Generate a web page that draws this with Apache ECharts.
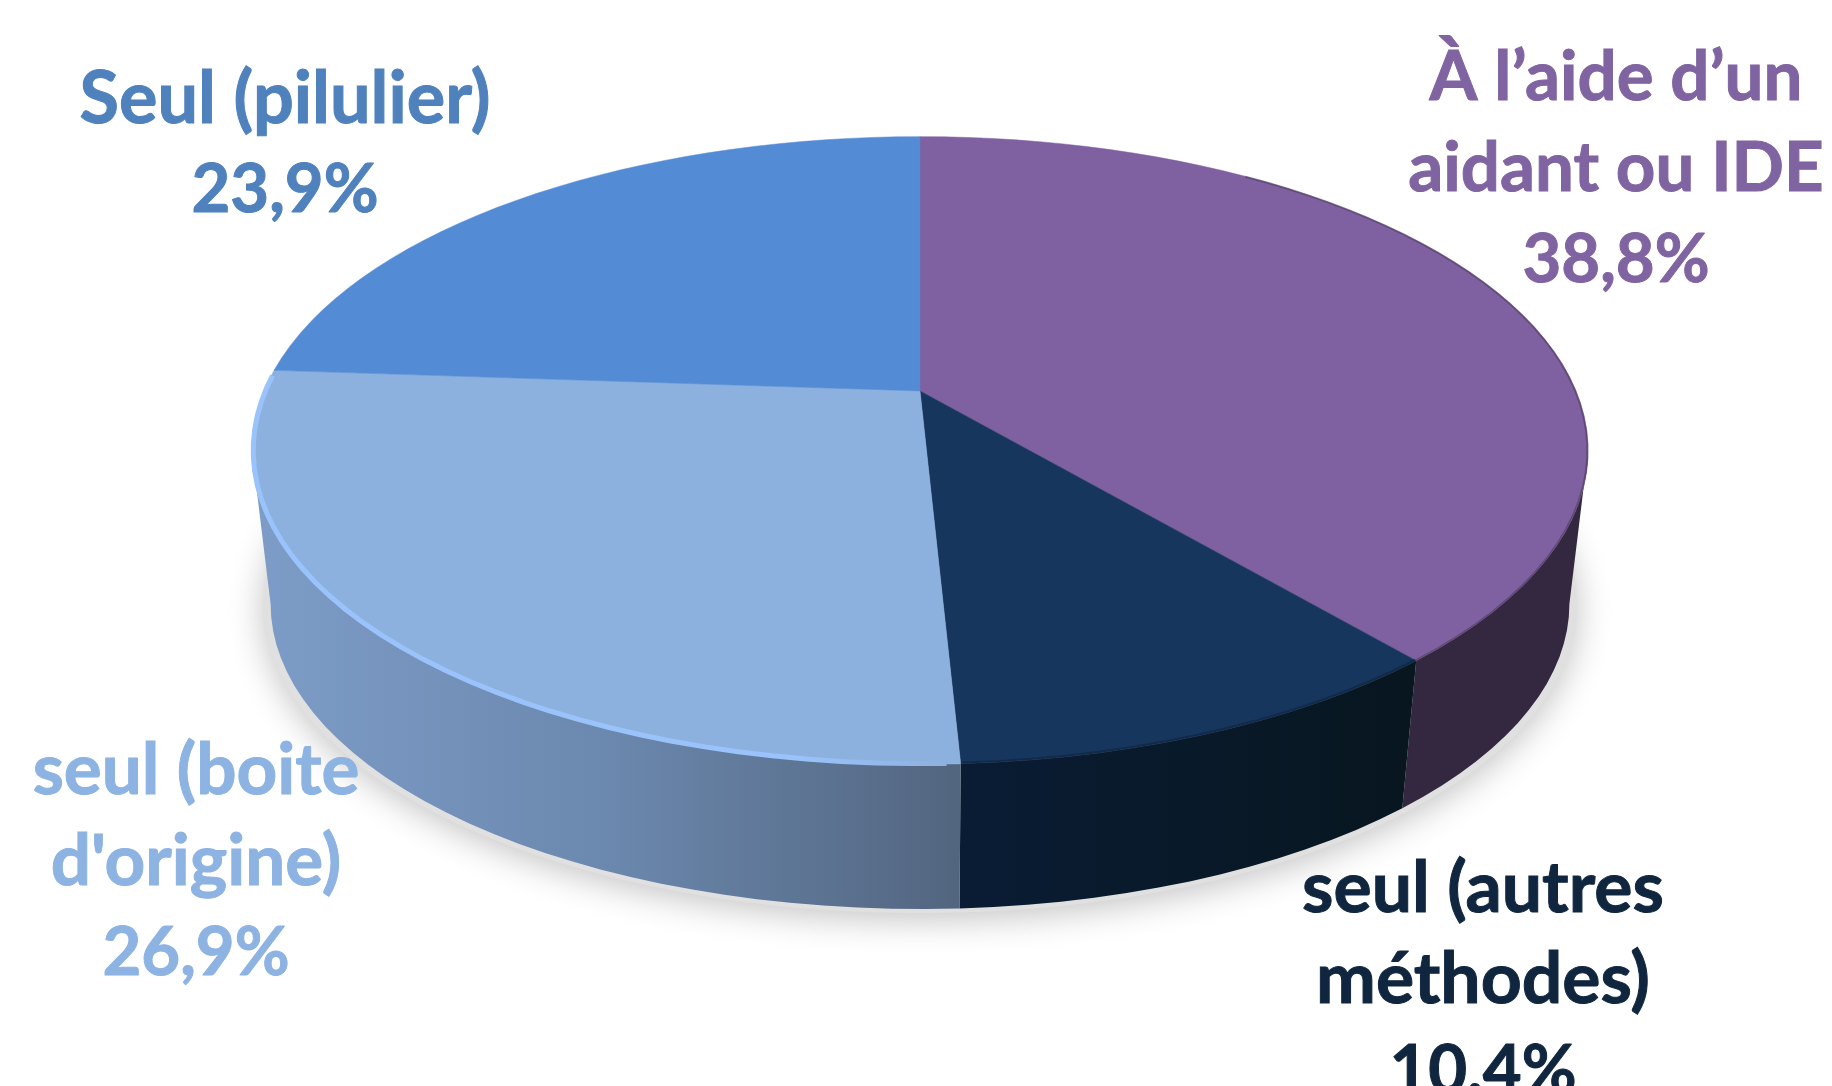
<!DOCTYPE html>
<html lang="fr">
<head>
<meta charset="utf-8">
<title>Mode de gestion des médicaments</title>
<script src="https://cdn.jsdelivr.net/npm/echarts@6/dist/echarts.min.js"></script>
<style>
  html, body { margin: 0; padding: 0; background: #fff; overflow: hidden; }
  #chart { width: 1832px; height: 1086px; }
</style>
</head>
<body>
<div id="chart"></div>
<script>
// Slices run clockwise from twelve o'clock.
const categories = ["À l’aide d’un\naidant ou IDE", "seul (autres\nméthodes)", "seul (boite\nd'origine)", "Seul (pilulier)"];
const shares = [38.8, 10.4, 26.9, 23.9];
const topColors = ["#7f60a0", "#17365d", "#8db1df", "#548bd5"];
const labelColors = ["#8064a2", "#10263f", "#8db3e2", "#4f81bd"];
const labelCenters = [[1616, 169], [1483, 980], [196, 862], [285, 145]];
const nameFontSizes = [69, 71.5, 71, 72];

// Perspective disc: centre on screen, half-axes, foreshortening and wall depth.
const CX = 920, CY = 391, AX = 656, AY = 302.6, K = 0.1896;
const WALL_SHRINK = 0.972, WALL_CY = 546;
const FACET_DEG = 2.5;
const FONT_FAMILY = 'Lato, "Open Sans", sans-serif';
const VALUE_FONT = 'bold 67px ' + FONT_FAMILY;

function project(deg, base, inset) {
  const a = deg * Math.PI / 180, u = Math.sin(a), v = -Math.cos(a), d = 1 - K * v;
  const s = (base ? WALL_SHRINK : 1) * (inset || 1);
  return [CX + s * AX * u / d, (base ? WALL_CY : CY) + s * AY * v / d];
}
function arc(from, to, base, inset) {
  const n = Math.max(2, Math.ceil(Math.abs(to - from) / FACET_DEG)), pts = [];
  for (let i = 0; i <= n; i++) pts.push(project(from + (to - from) * i / n, base, inset));
  return pts;
}
function range(dataIndex) {
  let start = 0;
  for (let i = 0; i < dataIndex; i++) start += shares[i];
  return [start * 3.6, (start + shares[dataIndex]) * 3.6];
}
const hgrad = (stops) => ({ type: 'linear', x: 0, y: 0, x2: 1, y2: 0, colorStops: stops });

// Only the part of the wall facing the viewer is drawn.
const WALL_FROM = Math.acos(-K) * 180 / Math.PI, WALL_TO = 360 - WALL_FROM;
const wallFills = [
  "#33283f",
  hgrad([{ offset: 0, color: "#0a1c34" }, { offset: 1, color: "#07161f" }]),
  hgrad([{ offset: 0, color: "#7d9cc7" }, { offset: 0.5, color: "#6b88ae" }, { offset: 1, color: "#52657f" }]),
  "#000"
];

function renderShadow() {
  return {
    type: 'polygon',
    shape: { points: arc(0, 360, true, 1.012) },
    style: { fill: "#e0e0e0", shadowBlur: 34, shadowColor: "rgba(0,0,0,0.24)", shadowOffsetY: 6 },
    silent: true
  };
}
function renderWall(params, api) {
  const [a, b] = range(params.dataIndex);
  api.value(0);
  const from = Math.max(a, WALL_FROM), to = Math.min(b, WALL_TO);
  if (to <= from) return null;
  return {
    type: 'polygon',
    shape: { points: arc(from, to, false).concat(arc(to, from, true)) },
    style: { fill: wallFills[params.dataIndex] },
    silent: true
  };
}
function renderTop(params, api) {
  const i = params.dataIndex, [a, b] = range(i);
  api.value(0);
  const children = [{
    type: 'polygon',
    shape: { points: [[CX, CY]].concat(arc(a, b, false)) },
    style: { fill: topColors[i], stroke: topColors[i], lineWidth: 0.5 }
  }];
  if (i === 2) {
    // Bevel highlight along the front rim of the pale slice.
    children.push({
      type: 'polyline',
      shape: { points: arc(a + 1, b - 1, false, 0.998) },
      style: {
        fill: 'none', lineWidth: 5,
        stroke: hgrad([{ offset: 0, color: "#9ac3fb" }, { offset: 0.78, color: "#9ac3fb" }, { offset: 1, color: "#8db1df" }])
      }
    });
  } else if (i === 0) {
    children.push({
      type: 'polyline',
      shape: { points: arc(35, b, false, 0.999) },
      style: { fill: 'none', lineWidth: 2, stroke: "rgba(51,40,63,0.4)" }
    });
  } else if (i === 1) {
    children.push({
      type: 'polyline',
      shape: { points: arc(a, b, false, 0.998) },
      style: { fill: 'none', lineWidth: 3, stroke: "rgba(10,28,50,0.45)" }
    });
  }
  return { type: 'group', children, silent: true };
}
function renderLabel(params, api) {
  const i = params.dataIndex, share = api.value(0), fill = labelColors[i];
  const lines = categories[i].split("\n").map(s => "{n|" + s + "}");
  lines.push("{v|" + share.toFixed(1).replace(".", ",") + "%}");
  return {
    type: 'text',
    x: labelCenters[i][0], y: labelCenters[i][1],
    style: {
      text: lines.join("\n"),
      align: 'center', verticalAlign: 'middle',
      rich: {
        n: { font: 'bold ' + nameFontSizes[i] + 'px ' + FONT_FAMILY, lineHeight: 91, fill, stroke: fill, lineWidth: 1, align: 'center' },
        v: { font: VALUE_FONT, lineHeight: 91, fill, stroke: fill, lineWidth: 1, align: 'center' }
      }
    },
    silent: true
  };
}

const rows = shares.map(v => [v]);
echarts.init(document.getElementById('chart'), null, { renderer: 'canvas' }).setOption({
  animation: false,
  backgroundColor: '#fff',
  series: [
    { type: 'custom', coordinateSystem: 'none', data: [[100]], renderItem: renderShadow, z: 1 },
    { type: 'custom', coordinateSystem: 'none', data: rows, renderItem: renderWall, z: 2 },
    { type: 'custom', coordinateSystem: 'none', data: rows, renderItem: renderTop, z: 3 },
    { type: 'custom', coordinateSystem: 'none', data: rows, renderItem: renderLabel, z: 4 }
  ]
});
</script>
</body>
</html>
